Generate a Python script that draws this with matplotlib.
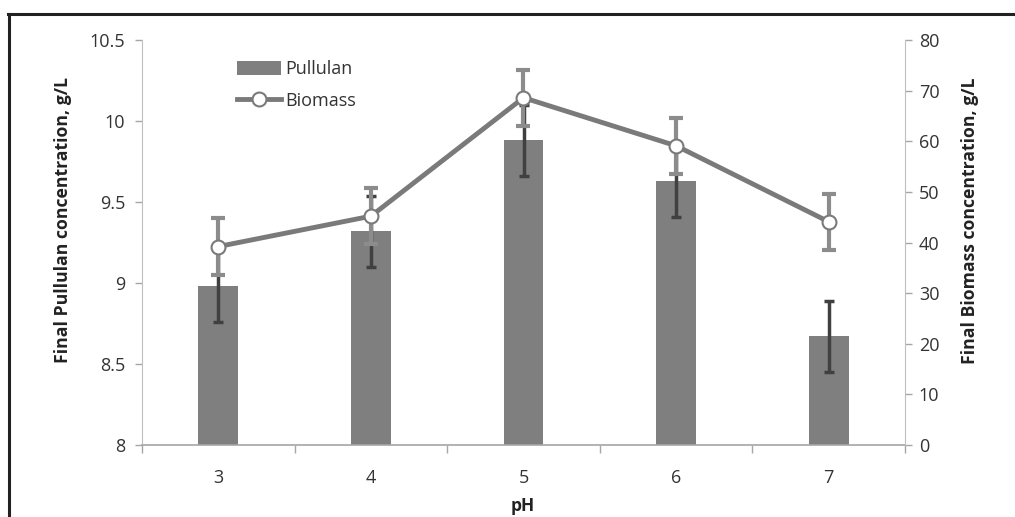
import matplotlib
matplotlib.use("Agg")
import matplotlib.pyplot as plt
from matplotlib.lines import Line2D
from matplotlib.patches import Patch
import numpy as np

ph = ["3", "4", "5", "6", "7"]
pullulan = [8.98, 9.32, 9.88, 9.63, 8.67]
pullulan_err = [0.22, 0.22, 0.22, 0.22, 0.22]
biomass = [39.2, 45.2, 68.6, 59.1, 44.1]
biomass_err = [5.6, 5.5, 5.5, 5.5, 5.5]
left_ticks = [8, 8.5, 9, 9.5, 10, 10.5]
left_labels = ["8", "8.5", "9", "9.5", "10", "10.5"]
right_ticks = [0, 10, 20, 30, 40, 50, 60, 70, 80]

plt.rcParams['font.family'] = ['Open Sans', 'DejaVu Sans']

W, H = 1015, 517
fig = plt.figure(figsize=(W/100, H/100), dpi=100)
ax = fig.add_axes([142/W, 1-445/H, (905-142)/W, (445-40)/H])
x = np.arange(len(ph))

bar_col = '#7f7f80'
txt_col = '#333333'
ax.bar(x, [p - 8 for p in pullulan], bottom=8, width=0.26, color=bar_col, zorder=2)
ax.errorbar(x, pullulan, yerr=pullulan_err, fmt='none', ecolor='#404040',
            elinewidth=2.5, capsize=3.5, capthick=2.5, zorder=3)
ax.set_xlim(-0.5, len(ph) - 0.5)
ax.set_ylim(8, 10.5)
ax.set_yticks(left_ticks)
ax.set_yticklabels(left_labels)
ax.set_xticks(x)
ax.set_xticklabels(ph)
ax.set_xticks(np.arange(-0.5, len(ph), 1.0), minor=True)
ax.tick_params(axis='x', which='major', length=0, pad=17, labelsize=13, colors=txt_col)
ax.tick_params(axis='x', which='minor', length=6, width=1, color='#a6a6a6', direction='out')
ax.tick_params(axis='y', length=5, width=1, color='#a6a6a6', labelsize=13, labelcolor=txt_col, pad=7)
for s in ['top', 'right']:
    ax.spines[s].set_visible(False)
ax.spines['left'].set_color('#bfbfbf')
ax.spines['bottom'].set_color('#a6a6a6')
ax.spines['bottom'].set_linewidth(1.2)

ax2 = ax.twinx()
ax2.set_ylim(0, 80)
ax2.set_yticks(right_ticks)
ax2.errorbar(x, biomass, yerr=biomass_err, fmt='none', ecolor='#8c8c8c',
             elinewidth=3, capsize=5, capthick=3, zorder=3)
ax2.plot(x, biomass, color='#7a7a7a', lw=3.5, marker='o', markersize=10,
         markerfacecolor='white', markeredgecolor='#7a7a7a', markeredgewidth=1.5, zorder=4)
for s in ['top', 'left', 'bottom']:
    ax2.spines[s].set_visible(False)
ax2.spines['right'].set_color('#bfbfbf')
ax2.tick_params(axis='y', length=5, width=1, color='#a6a6a6', labelsize=13, labelcolor=txt_col, pad=5)

# axis titles
fig.text(63/W, 1-220/H, "Final Pullulan concentration, g/L", rotation=90,
         ha='center', va='center', fontsize=12.7, fontweight='bold', color='#222222')
fig.text(970/W, 1-221/H, "Final Biomass concentration, g/L", rotation=90,
         ha='center', va='center', fontsize=12.7, fontweight='bold', color='#222222')
fig.text(523/W, 1-506/H, "pH", ha='center', va='center', fontsize=12.5,
         fontweight='bold', color='#222222')

handles = [Patch(facecolor=bar_col, edgecolor='none'),
           Line2D([0], [0], color='#7a7a7a', lw=3.5, marker='o', markersize=10,
                  markerfacecolor='white', markeredgecolor='#7a7a7a', markeredgewidth=1.5)]
leg = ax.legend(handles, ["Pullulan", "Biomass"], loc='upper left',
                bbox_to_anchor=((230-142)/763, 1 - (53-40)/405), frameon=False,
                fontsize=13, handlelength=2.45, handleheight=0.75, handletextpad=0.2,
                labelspacing=0.75, borderaxespad=0)
for t in leg.get_texts():
    t.set_color(txt_col)

# image frame (top and left)
fig.add_artist(Line2D([8/W, 1], [1-14/H, 1-14/H], color='#222222', lw=2.2,
                      transform=fig.transFigure))
fig.add_artist(Line2D([9/W, 9/W], [0, 1-14/H], color='#222222', lw=2.2,
                      transform=fig.transFigure))

fig.savefig("out.png", dpi=100)
